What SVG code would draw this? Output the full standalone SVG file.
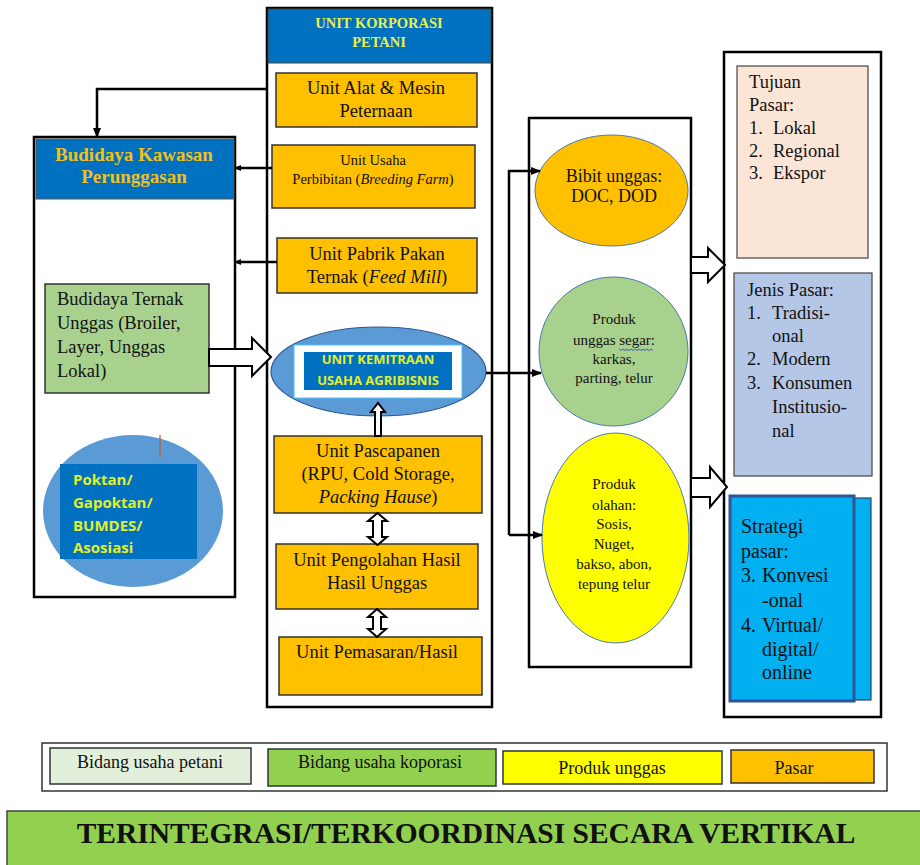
<svg xmlns="http://www.w3.org/2000/svg" width="920" height="865" viewBox="0 0 920 865">
<defs>
<style>
.t{font-family:'Liberation Serif','Times New Roman',serif;fill:#111}
.c{text-anchor:middle}
.b{font-weight:bold}
.s{font-family:'Open Sans','Noto Sans',sans-serif;font-weight:700;fill:#e2ee2a}
.box{stroke:#333;stroke-width:1.5}
.org{fill:#ffc000}
.frame{fill:#fff;stroke:#000;stroke-width:2.5}
.ln{fill:none;stroke:#000;stroke-width:2.5}
.blk{fill:#fff;stroke:#000;stroke-width:2}
</style>
<marker id="ah" markerUnits="userSpaceOnUse" markerWidth="10" markerHeight="10" refX="9" refY="5" orient="auto"><path d="M0,1 L10,5 L0,9 z" fill="#000"/></marker>
<marker id="as" markerUnits="userSpaceOnUse" markerWidth="7" markerHeight="7" refX="6" refY="3.5" orient="auto"><path d="M0,0.5 L7,3.5 L0,6.5 z" fill="#000"/></marker>
</defs>
<rect width="920" height="865" fill="#fff"/>

<!-- Left region -->
<g id="budidaya-kawasan">
<rect x="34" y="137" width="201" height="460" class="frame"/>
<rect x="36" y="139" width="198" height="60" fill="#0070c0" stroke="#555" stroke-width="1"/>
<text class="t b c" x="134" y="161" font-size="19" style="fill:#f0c020">Budidaya Kawasan</text>
<text class="t b c" x="134" y="183" font-size="19" style="fill:#f0c020">Perunggasan</text>
</g>
<g id="budidaya-ternak">
<rect x="45" y="284" width="164" height="109" fill="#a9d18e" class="box"/>
<text class="t" font-size="18.5" x="57"><tspan x="57" y="305">Budidaya Ternak</tspan><tspan x="57" y="329">Unggas (Broiler,</tspan><tspan x="57" y="353">Layer, Unggas</tspan><tspan x="57" y="377">Lokal)</tspan></text>
</g>
<g id="poktan">
<ellipse cx="133" cy="511" rx="90" ry="76" fill="#5b9bd5"/>
<rect x="60" y="464" width="137" height="95" fill="#0070c0"/>
<line x1="160" y1="435" x2="160" y2="457" stroke="#c55a11" stroke-width="1.2"/>
<text class="s" font-size="15"><tspan x="73" y="485">Poktan/</tspan><tspan x="73" y="508">Gapoktan/</tspan><tspan x="73" y="531">BUMDES/</tspan><tspan x="73" y="553">Asosiasi</tspan></text>
</g>

<!-- Center column -->
<g id="unit-korporasi">
<rect x="267" y="8" width="225" height="699" class="frame"/>
<rect x="268" y="9" width="223" height="54" fill="#0070c0" stroke="#444" stroke-width="1"/>
<text class="t b c" x="379" y="28" font-size="14.5" style="fill:#e8f04c">UNIT KORPORASI</text>
<text class="t b c" x="379" y="47" font-size="14.5" style="fill:#e8f04c">PETANI</text>
</g>
<g id="unit-alat">
<rect x="276" y="73" width="201" height="54" class="box org"/>
<text class="t c" x="376" y="94" font-size="18.5">Unit Alat &amp; Mesin</text>
<text class="t c" x="376" y="117" font-size="18.5">Peternaan</text>
</g>
<g id="unit-usaha">
<rect x="272" y="145" width="203" height="63" class="box org"/>
<text class="t c" x="373" y="165" font-size="14.5">Unit Usaha</text>
<text class="t c" x="373" y="184" font-size="14.5">Perbibitan (<tspan font-style="italic">Breeding Farm</tspan>)</text>
</g>
<g id="unit-pabrik">
<rect x="277" y="238" width="200" height="55" class="box org"/>
<text class="t c" x="377" y="260" font-size="18.5">Unit Pabrik Pakan</text>
<text class="t c" x="377" y="283" font-size="18.5">Ternak (<tspan font-style="italic">Feed Mill</tspan>)</text>
</g>
<g id="unit-kemitraan">
<ellipse cx="378.5" cy="371.5" rx="107.5" ry="44.5" fill="#5b9bd5" stroke="#2f5597" stroke-width="1.2"/>
<rect x="294" y="345" width="168" height="53" fill="#fff" stroke="#4fc3f7" stroke-width="1"/>
<rect x="304" y="352" width="148" height="38" fill="#0070c0"/>
<text class="s" x="378" y="364" font-size="13" text-anchor="middle">UNIT KEMITRAAN</text>
<text class="s" x="378" y="385" font-size="13" text-anchor="middle">USAHA AGRIBISNIS</text>
</g>
<g id="unit-pascapanen">
<rect x="274" y="436" width="208" height="77" class="box org"/>
<text class="t c" x="378" y="457" font-size="18.5">Unit Pascapanen</text>
<text class="t c" x="378" y="480" font-size="18.5">(RPU, Cold Storage,</text>
<text class="t c" x="378" y="503" font-size="18.5"><tspan font-style="italic">Packing Hause</tspan>)</text>
</g>
<g id="unit-pengolahan">
<rect x="276" y="544" width="202" height="65" class="box org"/>
<text class="t c" x="377" y="566" font-size="18.5">Unit Pengolahan Hasil</text>
<text class="t c" x="377" y="589" font-size="18.5">Hasil Unggas</text>
</g>
<g id="unit-pemasaran">
<rect x="279" y="637" width="203" height="58" class="box org"/>
<text class="t c" x="377" y="658" font-size="18.5">Unit Pemasaran/Hasil</text>
</g>

<!-- Products column -->
<g id="produk-box">
<rect x="529" y="118" width="162" height="549" class="frame"/>
</g>
<g id="bibit">
<ellipse cx="611.5" cy="190.5" rx="76.5" ry="55.5" fill="#ffc000" stroke="#4a7ab0" stroke-width="1"/>
<text class="t c" x="614" y="182" font-size="18">Bibit unggas:</text>
<text class="t c" x="614" y="202" font-size="18">DOC, DOD</text>
</g>
<g id="produk-segar">
<ellipse cx="613.5" cy="351.5" rx="74.5" ry="74.5" fill="#a9d18e" stroke="#4a7ab0" stroke-width="1"/>
<text class="t c" font-size="15"><tspan x="614" y="324">Produk</tspan><tspan x="614" y="345">unggas segar:</tspan><tspan x="614" y="364">karkas,</tspan><tspan x="614" y="383">parting, telur</tspan></text>
<path d="M619,349 l2,1.5 l2,-1.5 l2,1.5 l2,-1.5 l2,1.5 l2,-1.5 l2,1.5 l2,-1.5 l2,1.5 l2,-1.5 l2,1.5 l2,-1.5 l2,1.5 l2,-1.5 l2,1.5 l2,-1.5 l2,1.5" fill="none" stroke="#2a3bd6" stroke-width="0.8"/>
</g>
<g id="produk-olahan">
<ellipse cx="615.5" cy="538" rx="73.5" ry="105" fill="#ffff00" stroke="#4a7ab0" stroke-width="1"/>
<text class="t c" font-size="15"><tspan x="614" y="489">Produk</tspan><tspan x="614" y="510">olahan:</tspan><tspan x="614" y="529">Sosis,</tspan><tspan x="614" y="549">Nuget,</tspan><tspan x="614" y="569">bakso, abon,</tspan><tspan x="614" y="589">tepung telur</tspan></text>
</g>

<!-- Right column -->
<g id="pasar-box">
<rect x="724" y="52" width="157" height="665" class="frame"/>
</g>
<g id="tujuan-pasar">
<rect x="737" y="66" width="131" height="192" fill="#fbe5d6" stroke="#444" stroke-width="1.2"/>
<text class="t" font-size="18.5"><tspan x="749" y="88">Tujuan</tspan><tspan x="749" y="111">Pasar:</tspan><tspan x="749" y="134">1.</tspan><tspan x="773" y="134">Lokal</tspan><tspan x="749" y="157">2.</tspan><tspan x="773" y="157">Regional</tspan><tspan x="749" y="179">3.</tspan><tspan x="773" y="179">Ekspor</tspan></text>
</g>
<g id="jenis-pasar">
<rect x="734" y="273" width="138" height="203" fill="#b4c7e7" stroke="#444" stroke-width="1.2"/>
<text class="t" font-size="18.5"><tspan x="747" y="296">Jenis Pasar:</tspan><tspan x="747" y="319">1.</tspan><tspan x="772" y="319">Tradisi-</tspan><tspan x="772" y="342">onal</tspan><tspan x="747" y="365">2.</tspan><tspan x="772" y="365">Modern</tspan><tspan x="747" y="389">3.</tspan><tspan x="772" y="389">Konsumen</tspan><tspan x="772" y="413">Institusio-</tspan><tspan x="772" y="437">nal</tspan></text>
</g>
<g id="strategi-pasar">
<rect x="740" y="498" width="131" height="202" fill="#00b0f0" stroke="#2f3f5f" stroke-width="1.2"/>
<rect x="730" y="496" width="124" height="205" fill="#00b0f0" stroke="#2f5597" stroke-width="3"/>
<text class="t" font-size="20"><tspan x="741" y="533">Strategi</tspan><tspan x="741" y="558">pasar:</tspan><tspan x="741" y="582">3.</tspan><tspan x="762" y="582">Konvesi</tspan><tspan x="762" y="607">-onal</tspan><tspan x="741" y="632">4.</tspan><tspan x="762" y="632">Virtual/</tspan><tspan x="762" y="656">digital/</tspan><tspan x="762" y="679">online</tspan></text>
</g>

<!-- Connectors -->
<g id="connectors">
<polyline class="ln" points="267,89 97,89 97,137" marker-end="url(#ah)"/>
<line class="ln" x1="272" y1="168" x2="235" y2="168" marker-end="url(#as)"/>
<line class="ln" x1="277" y1="262" x2="235" y2="262" marker-end="url(#as)"/>
<line class="ln" x1="486" y1="373" x2="541" y2="373" marker-end="url(#ah)"/>
<polyline class="ln" points="509,535 509,171 540,171" marker-end="url(#ah)"/>
<line class="ln" x1="509" y1="535" x2="542" y2="535" marker-end="url(#ah)"/>
<polygon class="blk" points="209,349 252,349 252,338 271,357 252,376 252,366 209,366"/>
<polygon class="blk" points="691,257 708,257 708,248 725,265 708,282 708,273 691,273"/>
<polygon class="blk" points="691,478 710,478 710,467 727,487 710,507 710,497 691,497"/>
<polygon class="blk" stroke-width="1.5" points="375,436 375,412 371,412 378,403 385,412 381,412 381,436"/>
<polygon class="blk" stroke-width="1.5" points="377.5,513 387,521 382,521 382,537 387,537 377.5,545 368,537 373,537 373,521 368,521"/>
<polygon class="blk" stroke-width="1.5" points="377,609 386,617 381,617 381,629 386,629 377,637 368,629 373,629 373,617 368,617"/>
</g>

<!-- Legend -->
<g id="legend">
<rect x="42" y="743" width="845" height="48" fill="#fff" stroke="#333" stroke-width="1.5"/>
<rect x="50" y="748" width="201" height="36" fill="#e2efda" stroke="#333" stroke-width="1.5"/>
<text class="t c" x="150" y="768" font-size="18">Bidang usaha petani</text>
<rect x="268" y="749" width="228" height="37" fill="#92d050" stroke="#333" stroke-width="1.5"/>
<text class="t c" x="380" y="768" font-size="18">Bidang usaha koporasi</text>
<rect x="503" y="751" width="219" height="33" fill="#ffff00" stroke="#333" stroke-width="1.5"/>
<text class="t c" x="612" y="774" font-size="18">Produk unggas</text>
<rect x="731" y="750" width="143" height="33" fill="#ffc000" stroke="#333" stroke-width="1.5"/>
<text class="t c" x="794" y="774" font-size="18">Pasar</text>
</g>
<g id="banner">
<rect x="7" y="811" width="920" height="60" fill="#92d050" stroke="#444" stroke-width="1.5"/>
<text class="t b c" x="466" y="843" font-size="29.5">TERINTEGRASI/TERKOORDINASI SECARA VERTIKAL</text>
</g>
</svg>
